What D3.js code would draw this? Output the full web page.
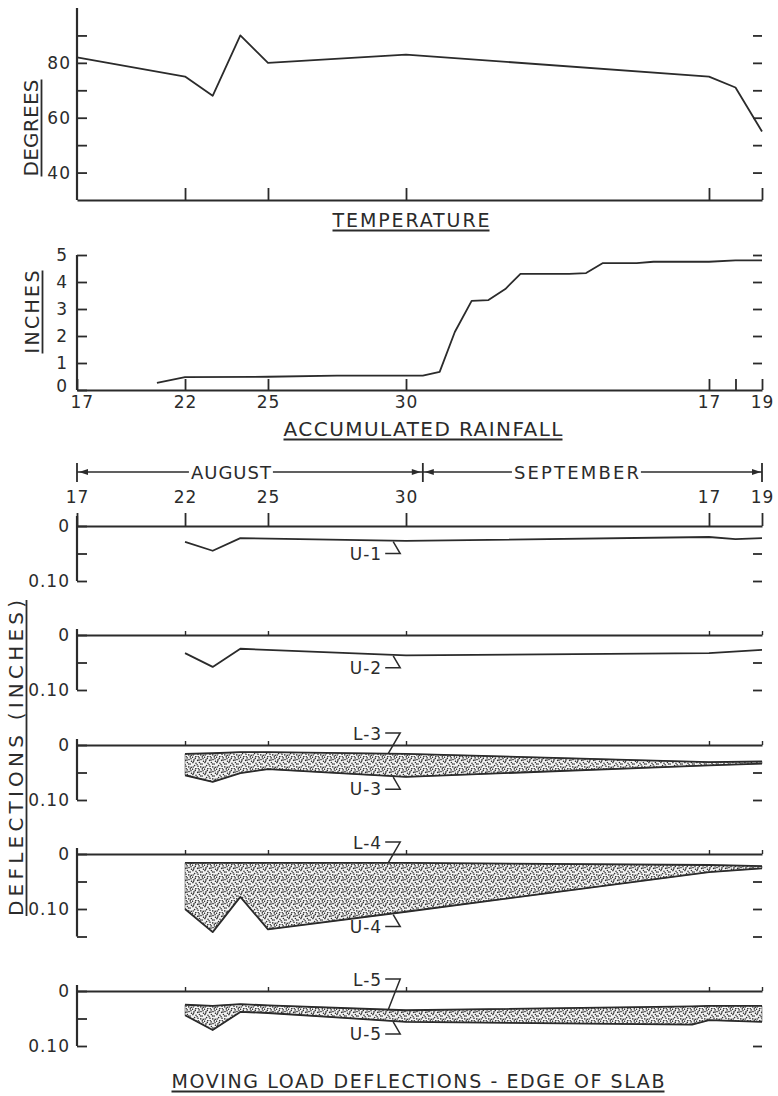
<!DOCTYPE html>
<html><head><meta charset="utf-8">
<script src="https://cdn.jsdelivr.net/npm/d3@7/dist/d3.min.js"></script>
<style>
html,body{margin:0;padding:0;background:#fff;}
svg{display:block;}
text{font-family:"DejaVu Sans",sans-serif;}
</style></head><body>
<svg id="chart" width="778" height="1096"></svg>
<script>
// ---------- data ----------
// day index: 0 = August 17 ... 33 = September 19
const xTickDays   = [0, 5, 8, 13, 31, 33];
const xTickLabels = ["17", "22", "25", "30", "17", "19"];
const rainTickDays = [0, 5, 8, 13, 31, 32, 33];

const tempDays   = [0, 5, 6, 7, 8, 13, 31, 32, 33];
const tempValues = [82, 75, 68, 90, 80, 83, 75, 71, 55];
const tempTicks  = [40, 50, 60, 70, 80, 90];

const rainDays   = [3.7, 5, 8, 10.5, 13, 14, 15, 15.9, 16.9, 17.9, 18.9, 19.8, 22.7, 23.7, 24.7, 26.7, 27.7, 31, 32, 33];
const rainValues = [0.26, 0.48, 0.49, 0.53, 0.53, 0.53, 0.67, 2.15, 3.3, 3.33, 3.74, 4.3, 4.3, 4.33, 4.7, 4.7, 4.75, 4.75, 4.8, 4.8];
const rainTicks  = [0, 1, 2, 3, 4, 5];

const u1Days = [5, 6, 7, 13, 31, 32, 33];
const u1Values = [0.029, 0.045, 0.022, 0.027, 0.020, 0.024, 0.022];
const u2Days = [5, 6, 7, 13, 31, 33];
const u2Values = [0.033, 0.058, 0.025, 0.037, 0.033, 0.027];
const p3Days = [5, 6, 7, 8, 13, 31, 33];
const l3Values = [0.016, 0.015, 0.013, 0.013, 0.016, 0.031, 0.030];
const u3Values = [0.055, 0.067, 0.051, 0.044, 0.058, 0.037, 0.034];
const p4Days = [5, 6, 7, 8, 13, 31, 33];
const l4Values = [0.016, 0.016, 0.016, 0.016, 0.016, 0.020, 0.022];
const u4Values = [0.100, 0.142, 0.078, 0.137, 0.105, 0.033, 0.026];
const p5Days = [5, 6, 7, 8, 13, 30, 31, 33];
const l5Values = [0.025, 0.027, 0.024, 0.026, 0.035, 0.028, 0.027, 0.027];
const u5Values = [0.044, 0.071, 0.038, 0.040, 0.056, 0.061, 0.053, 0.056];
const deflTicks = [0, 0.05, 0.10, 0.15];

const monthNames = ["AUGUST", "SEPTEMBER"];
const monthBoundaryDay = 14;
const labelDay = 12.5;

// ---------- layout / style ----------
const ink = "#2b2b2b";
const svg = d3.select("#chart");
svg.append("rect").attr("width", 778).attr("height", 1096).attr("fill", "#fff");
const X0 = 77, X1 = 762;
const xStops = [0, 0.1577, 0.2788, 0.4803, 0.9226, 1];
const x = d3.scaleLinear().domain(xTickDays).range(xStops.map(f => X0 + f * (X1 - X0)));
const RX = 753; // right-hand dash column

// stipple pattern
const defs = svg.append("defs");
const pat = defs.append("pattern").attr("id", "stipple")
  .attr("patternUnits", "userSpaceOnUse").attr("width", 12).attr("height", 12);
pat.append("rect").attr("width", 12).attr("height", 12).attr("fill", "#f4f4f4");
const dotPos = [[0.5,1.2],[3.8,0.6],[7.1,1.9],[10.3,0.9],[2.0,3.9],[5.6,4.4],[9.0,3.6],[11.5,5.2],[0.9,6.6],
  [4.0,7.3],[7.4,6.5],[10.1,8.1],[2.6,9.6],[6.0,10.2],[8.8,10.9],[11.2,11.3],[1.2,11.0],[5.1,8.8],[8.6,8.0],[3.3,2.4],
  [6.3,0.2],[11.0,2.8],[1.5,5.3],[7.0,4.1]];
pat.selectAll("circle").data(dotPos).join("circle")
  .attr("cx", d => d[0]).attr("cy", d => d[1]).attr("r", 0.8).attr("fill", "#2e2e2e");

function styleAxis(g, size) {
  g.attr("color", ink).attr("font-family", "DejaVu Sans, sans-serif").attr("font-size", size || 16);
  g.selectAll(".tick line").attr("stroke-width", 1.8);
  g.selectAll(".domain").attr("stroke-width", 2.2);
  g.selectAll("text").attr("fill", ink).attr("letter-spacing", 1);
}
function vline(xp, y1, y2, w) {
  svg.append("line").attr("x1", xp).attr("x2", xp).attr("y1", y1).attr("y2", y2)
    .attr("stroke", ink).attr("stroke-width", w || 2.2);
}
function title(txt, cx, base, len, size, rot) {
  const g = svg.append("g").attr("transform", rot ? `translate(${cx},${base}) rotate(-90)` : `translate(${cx},${base})`);
  g.append("text").attr("text-anchor", "middle").attr("font-size", size).attr("fill", ink)
    .attr("textLength", len).attr("lengthAdjust", "spacing").text(txt);
  g.append("line").attr("x1", -len / 2).attr("x2", len / 2).attr("y1", 3.5).attr("y2", 3.5)
    .attr("stroke", ink).attr("stroke-width", 1.8);
}

// ---------- temperature ----------
const yT = d3.scaleLinear().domain([30, 100]).range([200, 8]);
vline(X0, yT(100), yT(30));
svg.append("g").attr("transform", `translate(${X0},0)`)
  .call(d3.axisLeft(yT).tickValues(tempTicks).tickSize(-10).tickPadding(6).tickFormat(d => d % 20 === 0 ? d : ""))
  .call(g => g.select(".domain").remove()).call(g => styleAxis(g, 17));
svg.append("g").attr("transform", `translate(0,${yT(30)})`)
  .call(d3.axisBottom(x).tickValues(xTickDays.slice(1)).tickSize(-12).tickSizeOuter(0).tickFormat(""))
  .call(g => styleAxis(g));
svg.append("g").attr("transform", `translate(${RX},0)`)
  .call(d3.axisRight(yT).tickValues(tempTicks).tickSize(9).tickFormat(""))
  .call(g => g.select(".domain").remove()).call(g => styleAxis(g));
svg.append("path").datum(d3.zip(tempDays, tempValues))
  .attr("d", d3.line().x(d => x(d[0])).y(d => yT(d[1])))
  .attr("fill", "none").attr("stroke", ink).attr("stroke-width", 1.8).attr("stroke-linejoin", "round");
title("DEGREES", 38, 128, 97, 20, true);
title("TEMPERATURE", 411, 227, 157, 19, false);

// ---------- rainfall ----------
const yR = d3.scaleLinear().domain([0, 5]).range([390, 255]);
vline(X0, yR(5), yR(0));
svg.append("g").attr("transform", `translate(${X0},0)`)
  .call(d3.axisLeft(yR).tickValues(rainTicks).tickSize(-10).tickPadding(9).tickFormat(d3.format("d")))
  .call(g => g.select(".domain").remove()).call(g => styleAxis(g, 17))
  .call(g => g.selectAll(".tick").filter(d => d === 0).select("text").attr("dy", "0.1em"));
svg.append("g").attr("transform", `translate(0,${yR(0)})`)
  .call(d3.axisBottom(x).tickValues(rainTickDays).tickSize(-11).tickSizeOuter(0).tickPadding(6)
    .tickFormat(d => { const i = xTickDays.indexOf(d); return i >= 0 ? xTickLabels[i] : ""; }))
  .call(g => styleAxis(g, 17))
  .call(g => g.selectAll(".tick").filter(d => d === 0).select("text").attr("text-anchor", "start").attr("x", -7));
svg.append("g").attr("transform", `translate(${RX},0)`)
  .call(d3.axisRight(yR).tickValues(rainTicks.slice(1)).tickSize(9).tickFormat(""))
  .call(g => g.select(".domain").remove()).call(g => styleAxis(g));
svg.append("path").datum(d3.zip(rainDays, rainValues))
  .attr("d", d3.line().x(d => x(d[0])).y(d => yR(d[1])))
  .attr("fill", "none").attr("stroke", ink).attr("stroke-width", 1.8).attr("stroke-linejoin", "round");
title("INCHES", 39, 312, 83, 19, true);
title("ACCUMULATED RAINFALL", 423, 436, 279, 20, false);

// ---------- month header ----------
const hy = 472;
const xB = x(monthBoundaryDay);
const monthCenters = [(x(0) + xB) / 2 - 19, (xB + x(33)) / 2 - 16];
const monthWidths = [80, 125];
[x(0), xB, x(33)].forEach(xp => vline(xp, hy - 9, hy + 10, 1.8));
monthNames.forEach((m, i) => {
  svg.append("text").attr("x", monthCenters[i]).attr("y", hy + 7).attr("text-anchor", "middle")
    .attr("font-size", 18).attr("fill", ink).attr("textLength", monthWidths[i]).attr("lengthAdjust", "spacing").text(m);
});
const segs = [[x(0), monthCenters[0] - monthWidths[0] / 2 - 2], [monthCenters[0] + monthWidths[0] / 2 + 2, xB],
              [xB, monthCenters[1] - monthWidths[1] / 2 - 2], [monthCenters[1] + monthWidths[1] / 2 + 2, x(33)]];
segs.forEach(s => svg.append("line").attr("x1", s[0]).attr("x2", s[1]).attr("y1", hy).attr("y2", hy)
  .attr("stroke", ink).attr("stroke-width", 1.5));
function arrow(tip, dir) {
  svg.append("path").attr("d", `M${tip},${hy} L${tip - dir * 9},${hy - 3} L${tip - dir * 9},${hy + 3} Z`).attr("fill", ink);
}
arrow(x(0) + 2, -1); arrow(xB - 2, 1); arrow(xB + 2, -1); arrow(x(33) - 1, 1);

// ---------- deflection panels ----------
const interp = (days, vals, d) => d3.scaleLinear().domain(days).range(vals)(d);
const panels = [
  { zero: 526, max: 0.10, top: 13, lines: [{ name: "U-1", kind: "U", days: u1Days, vals: u1Values }] },
  { zero: 635, max: 0.10, top: 4, lines: [{ name: "U-2", kind: "U", days: u2Days, vals: u2Values }] },
  { zero: 745, max: 0.10, top: 4, band: [p3Days, l3Values, u3Values],
    lines: [{ name: "L-3", kind: "L", days: p3Days, vals: l3Values }, { name: "U-3", kind: "U", days: p3Days, vals: u3Values }] },
  { zero: 854, max: 0.15, top: 4, band: [p4Days, l4Values, u4Values],
    lines: [{ name: "L-4", kind: "L", days: p4Days, vals: l4Values }, { name: "U-4", kind: "U", days: p4Days, vals: u4Values }] },
  { zero: 991, max: 0.10, top: 4, band: [p5Days, l5Values, u5Values],
    lines: [{ name: "L-5", kind: "L", days: p5Days, vals: l5Values }, { name: "U-5", kind: "U", days: p5Days, vals: u5Values }] }
];
panels.forEach((p, pi) => {
  const y = d3.scaleLinear().domain([0, 0.10]).range([p.zero, p.zero + 55]);
  const ticks = deflTicks.filter(t => t <= p.max + 1e-9);
  vline(X0, p.zero - (pi === 0 ? 10 : 6), y(p.max));
  svg.append("g").attr("transform", `translate(${X0},0)`)
    .call(d3.axisLeft(y).tickValues(ticks).tickSize(-10).tickPadding(7)
      .tickFormat(d => d === 0 ? "0" : (Math.abs(d - 0.10) < 1e-9 ? "0.10" : "")))
    .call(g => g.select(".domain").remove()).call(g => styleAxis(g, 17));
  svg.append("g").attr("transform", `translate(0,${p.zero})`)
    .call(d3.axisTop(x).tickValues(pi === 0 ? xTickDays : xTickDays.slice(1)).tickSize(p.top).tickSizeOuter(0).tickPadding(10)
      .tickFormat((d, i) => pi === 0 ? xTickLabels[xTickDays.indexOf(d)] : ""))
    .call(g => styleAxis(g, 17))
    .call(g => g.selectAll(".tick line").attr("stroke-width", pi === 0 ? 1.8 : 1.4));
  svg.append("g").attr("transform", `translate(${RX},0)`)
    .call(d3.axisRight(y).tickValues(ticks.slice(1)).tickSize(9).tickFormat(""))
    .call(g => g.select(".domain").remove()).call(g => styleAxis(g));
  if (p.band) {
    const bd = p.band[0].map((d, i) => [d, p.band[1][i], p.band[2][i]]);
    svg.append("path").datum(bd)
      .attr("d", d3.area().x(d => x(d[0])).y0(d => y(d[1])).y1(d => y(d[2])))
      .attr("fill", "url(#stipple)").attr("stroke", "#555").attr("stroke-width", 0.6);
  }
  p.lines.forEach(ln => {
    svg.append("path").datum(d3.zip(ln.days, ln.vals))
      .attr("d", d3.line().x(d => x(d[0])).y(d => y(d[1])))
      .attr("fill", "none").attr("stroke", ink).attr("stroke-width", 1.8).attr("stroke-linejoin", "round");
    const tx = x(labelDay);
    const ty = y(interp(ln.days, ln.vals, labelDay));
    const base = ln.kind === "U" ? ty + 19 : p.zero - 5;
    svg.append("text").attr("x", tx - 10).attr("y", base).attr("text-anchor", "end")
      .attr("font-size", 17).attr("fill", ink).attr("letter-spacing", 1).text(ln.name);
    const ly = ln.kind === "U" ? base - 6 : base - 7;
    const endX = ln.kind === "U" ? tx + 1 : tx - 4;
    svg.append("path").attr("d", `M${tx - 7},${ly} L${tx + 8},${ly} L${endX},${ln.kind === "U" ? ty + 1 : ty}`)
      .attr("fill", "none").attr("stroke", ink).attr("stroke-width", 1.5);
  });
});
title("DEFLECTIONS (INCHES)", 23, 758, 316, 20, true);
title("MOVING LOAD DEFLECTIONS - EDGE OF SLAB", 418, 1088, 493, 19, false);
</script>
</body></html>
